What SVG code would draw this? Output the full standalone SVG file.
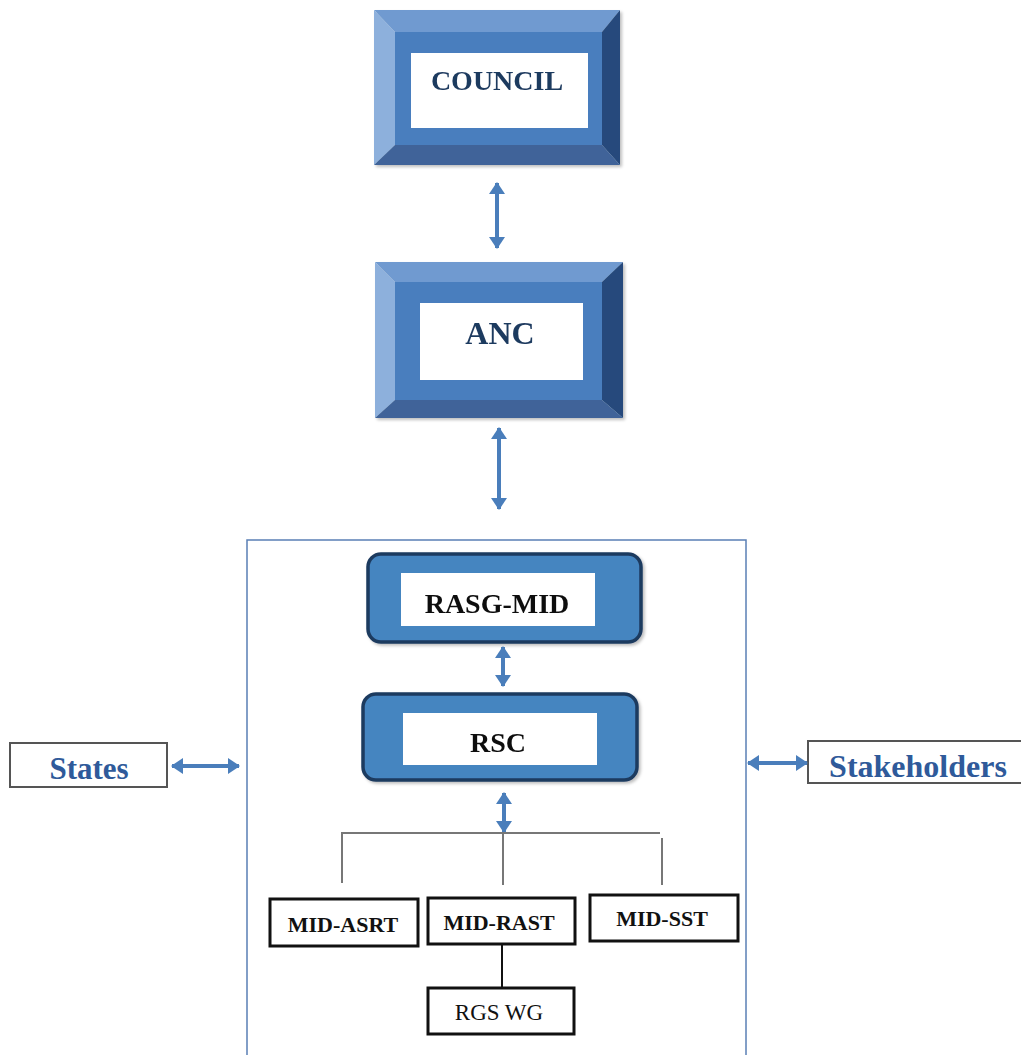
<svg xmlns="http://www.w3.org/2000/svg" width="1021" height="1055" viewBox="0 0 1021 1055">
<style>
  .t { font-family: "Liberation Serif", "Times New Roman", serif; font-weight: bold; text-anchor: middle; }
  .navy { fill: #1F3A5F; }
  .blk { fill: #111; }
  .blue { fill: #2F5A9A; }
  .bl { fill: #8DB0DC; }
  .br { fill: #254A7C; }
  .bb { fill: #3F6499; }
  .bc { fill: #4A7EBE; }
  .white { fill: #fff; }
  .rbox { fill: #4585C0; stroke: #1E3A5F; stroke-width: 3.5; }
  .sbox { fill: #fff; stroke: #111; stroke-width: 3; }
  .gbox { fill: #fff; stroke: #555; stroke-width: 2; }
  .arr { stroke: #4A7EBB; stroke-width: 4; fill: none; marker-start: url(#ah); marker-end: url(#ah); }
  .tree { stroke: #777; stroke-width: 2; fill: none; }
</style>
<defs>
  <marker id="ah" viewBox="0 0 12 16" refX="11" refY="8" markerWidth="12" markerHeight="16" orient="auto-start-reverse" markerUnits="userSpaceOnUse">
    <path d="M0,0 L12,8 L0,16 z" fill="#4A7EBB"/>
  </marker>
  <filter id="sh" x="-10%" y="-10%" width="130%" height="130%">
    <feDropShadow dx="2" dy="2" stdDeviation="1.5" flood-color="#000" flood-opacity="0.25"/>
  </filter>
</defs>

<g id="council" filter="url(#sh)">
  <polygon points="374,10 620,10 602,32 395,32" style="fill:#6F9AD0"/>
  <polygon class="bl" points="374,10 395,32 395,145 374,165"/>
  <polygon class="br" points="620,10 620,165 602,145 602,32"/>
  <polygon class="bb" points="374,165 395,145 602,145 620,165"/>
  <rect class="bc" x="395" y="32" width="207" height="113"/>
  <rect class="white" x="411" y="53" width="177" height="75"/>
  <text class="t navy" x="497" y="90" font-size="28">COUNCIL</text>
</g>

<g id="anc" filter="url(#sh)">
  <polygon points="375,262 623,262 602,282 395,282" style="fill:#6F9AD0"/>
  <polygon class="bl" points="375,262 395,282 395,400 375,418"/>
  <polygon class="br" points="623,262 623,418 602,400 602,282"/>
  <polygon class="bb" points="375,418 395,400 602,400 623,418"/>
  <rect class="bc" x="395" y="282" width="207" height="118"/>
  <rect class="white" x="420" y="303" width="163" height="77"/>
  <text class="t navy" x="500" y="344" font-size="32">ANC</text>
</g>

<g id="container">
  <rect x="247" y="540" width="499" height="530" fill="none" stroke="#5A7FB5" stroke-width="1.5"/>
</g>

<g id="rasg-mid" filter="url(#sh)">
  <rect class="rbox" x="368" y="554" width="273" height="88" rx="13"/>
  <rect class="white" x="401" y="573" width="194" height="53"/>
  <text class="t blk" x="497" y="613" font-size="28">RASG-MID</text>
</g>

<g id="rsc" filter="url(#sh)">
  <rect class="rbox" x="363" y="694" width="274" height="86" rx="13"/>
  <rect class="white" x="403" y="713" width="194" height="52"/>
  <text class="t blk" x="498" y="752" font-size="28">RSC</text>
</g>

<g id="states">
  <rect class="gbox" x="10" y="743" width="157" height="44"/>
  <text class="t blue" x="89" y="779" font-size="31">States</text>
</g>

<g id="stakeholders">
  <rect class="gbox" x="808" y="741" width="220" height="42"/>
  <text class="t blue" x="918" y="777" font-size="32">Stakeholders</text>
</g>

<g id="mid-asrt">
  <rect class="sbox" x="270" y="899" width="148" height="47"/>
  <text class="t blk" x="343" y="932" font-size="22">MID-ASRT</text>
</g>

<g id="mid-rast">
  <rect class="sbox" x="428" y="898" width="147" height="46"/>
  <text class="t blk" x="499" y="930" font-size="22">MID-RAST</text>
</g>

<g id="mid-sst">
  <rect class="sbox" x="590" y="895" width="148" height="46"/>
  <text class="t blk" x="662" y="926" font-size="22">MID-SST</text>
</g>

<g id="rgs-wg">
  <rect class="sbox" x="428" y="988" width="146" height="46"/>
  <text x="499" y="1020" font-size="23" font-family="Liberation Serif, Times New Roman, serif" text-anchor="middle" fill="#111">RGS WG</text>
</g>

<g id="connectors">
  <line class="arr" x1="497" y1="183" x2="497" y2="248"/>
  <line class="arr" x1="499" y1="428" x2="499" y2="509"/>
  <line class="arr" x1="503" y1="647" x2="503" y2="686"/>
  <line class="arr" x1="504" y1="793" x2="504" y2="832"/>
  <line class="arr" x1="172" y1="766" x2="239" y2="766"/>
  <line class="arr" x1="748" y1="763" x2="807" y2="763"/>
  <path class="tree" d="M342,883 V833 H660 M503,833 V885 M662,838 V885"/>
  <line x1="502" y1="944" x2="502" y2="988" stroke="#111" stroke-width="2"/>
</g>
</svg>
